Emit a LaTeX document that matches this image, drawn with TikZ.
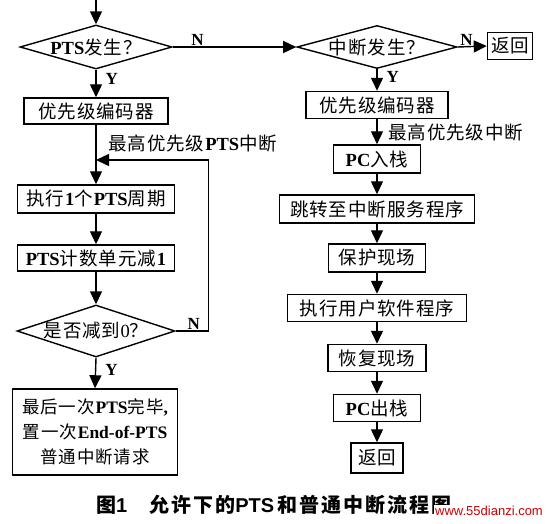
\documentclass[tikz,border=0pt]{standalone}
\usepackage{fontspec}
\setmainfont{Liberation Serif}
\newfontfamily\cjk[LetterSpace=5]{Noto Sans CJK SC}
\newfontfamily\capfont[LetterSpace=10]{Noto Sans CJK SC}
\newfontfamily\capsans{Liberation Sans}
\usetikzlibrary{shapes.geometric,arrows.meta}
\newcommand{\zh}[1]{{\cjk #1}}
\begin{document}
\begin{tikzpicture}[x=1pt,y=-1pt,
  txt/.style={font=\fontsize{18.5}{21}\selectfont},
  box/.style={txt,draw,line width=1.5pt,inner sep=0pt,align=center},
  dia/.style={txt,draw,diamond,line width=1.4pt,inner sep=0pt},
  lbl/.style={font=\fontsize{17}{20}\selectfont\bfseries,inner sep=1pt},
  arr/.style={line width=1.4pt,-{Triangle[width=12pt,length=13pt]}},
  ln/.style={line width=1.4pt}]
\fill[white] (0,0) rectangle (549,523);
\useasboundingbox (0,0) rectangle (549,523);
% left column
\node[dia,minimum width=152pt,minimum height=44pt,aspect=3.45] (d1) at (96,47) {\textbf{PTS}\zh{发生？}};
\node[box,minimum width=144pt,minimum height=26pt] (b1) at (96,111) {\zh{优先级编码器}};
\node[box,minimum width=157pt,minimum height=28pt] (b2) at (96,199) {\zh{执行}\textbf{1}\zh{个}\textbf{PTS}\zh{周期}};
\node[box,minimum width=157pt,minimum height=26pt] (b3) at (96,258) {\textbf{PTS}\zh{计数单元减}\textbf{1}};
\node[dia,minimum width=158pt,minimum height=52pt,aspect=3.04] (d2) at (96,331) {\zh{是否减到}0\zh{？}};
\node[box,minimum width=165pt,minimum height=86pt,font=\fontsize{17.5}{25}\selectfont] (b4) at (95,432) {\zh{最后一次}\textbf{PTS}\zh{完毕}\textbf{,}\\ \zh{置一次}\textbf{End-of-PTS}\\ \zh{普通中断请求}};
\node[txt,anchor=west,inner sep=0pt] (l1) at (108,143) {\zh{最高优先级}\textbf{PTS}\zh{中断}};
\coordinate (start) at (96,0);
\coordinate (j) at (96,160);
% right column
\node[dia,minimum width=160pt,minimum height=43pt,aspect=3.72] (d3) at (377,47) {\zh{中断发生？}};
\node[box,minimum width=45pt,minimum height=27pt] (ret1) at (510,46) {\zh{返回}};
\node[box,minimum width=142pt,minimum height=27pt] (r1) at (377,105) {\zh{优先级编码器}};
\node[txt,anchor=west,inner sep=0pt] (l2) at (388,132) {\zh{最高优先级中断}};
\node[box,minimum width=87pt,minimum height=28pt] (r2) at (377,159) {\textbf{PC}\zh{入栈}};
\node[box,minimum width=195pt,minimum height=28pt] (r3) at (377,209) {\zh{跳转至中断服务程序}};
\node[box,minimum width=97pt,minimum height=28pt] (r4) at (377,258) {\zh{保护现场}};
\node[box,minimum width=179pt,minimum height=27pt] (r5) at (377,308) {\zh{执行用户软件程序}};
\node[box,minimum width=98pt,minimum height=27pt] (r6) at (377,358) {\zh{恢复现场}};
\node[box,minimum width=87pt,minimum height=27pt] (r7) at (377,408) {\textbf{PC}\zh{出栈}};
\node[box,minimum width=52pt,minimum height=30pt] (r8) at (377,458) {\zh{返回}};
% connectors left
\draw[arr] (start) -- (d1.north);
\draw[arr] (d1.south) -- node[lbl,right,pos=0.35,xshift=8pt] {Y} (b1.north);
\draw[arr] (b1.south) -- (b2.north);
\draw[arr] (b2.south) -- (b3.north);
\draw[arr] (b3.south) -- (d2.north);
\draw[arr] (d2.south) -- node[lbl,right,pos=0.4,xshift=8pt] {Y} (b4.north);
\draw[arr] (d2.east) -- node[lbl,above,pos=0.55] {N} ++(33,0) |- (j);
\draw[arr] (d1.east) -- node[lbl,above,pos=0.2] {N} (d3.west);
% connectors right
\draw[arr] (d3.east) -- node[lbl,above,pos=0.3] {N} (ret1.west);
\draw[arr] (d3.south) -- node[lbl,right,pos=0.35,xshift=8pt] {Y} (r1.north);
\draw[arr] (r1.south) -- (r2.north);
\draw[arr] (r2.south) -- (r3.north);
\draw[arr] (r3.south) -- (r4.north);
\draw[arr] (r4.south) -- (r5.north);
\draw[arr] (r5.south) -- (r6.north);
\draw[arr] (r6.south) -- (r7.north);
\draw[arr] (r7.south) -- (r8.north);
% caption
\node[anchor=west,inner sep=0pt,font=\fontsize{20}{22}\selectfont\bfseries] (cap) at (96,505) {{\capfont 图}{\capsans 1}\hspace{22pt}{\capfont 允许下的}{\capsans PTS}\hspace{3pt}{\capfont 和普通中断流程图}};
\node[fill=white,text=red!80!black,inner sep=1pt,font=\capsans\fontsize{13}{14}\selectfont] (wm) at (489,511) {www.55dianzi.com};
\end{tikzpicture}
\end{document}
